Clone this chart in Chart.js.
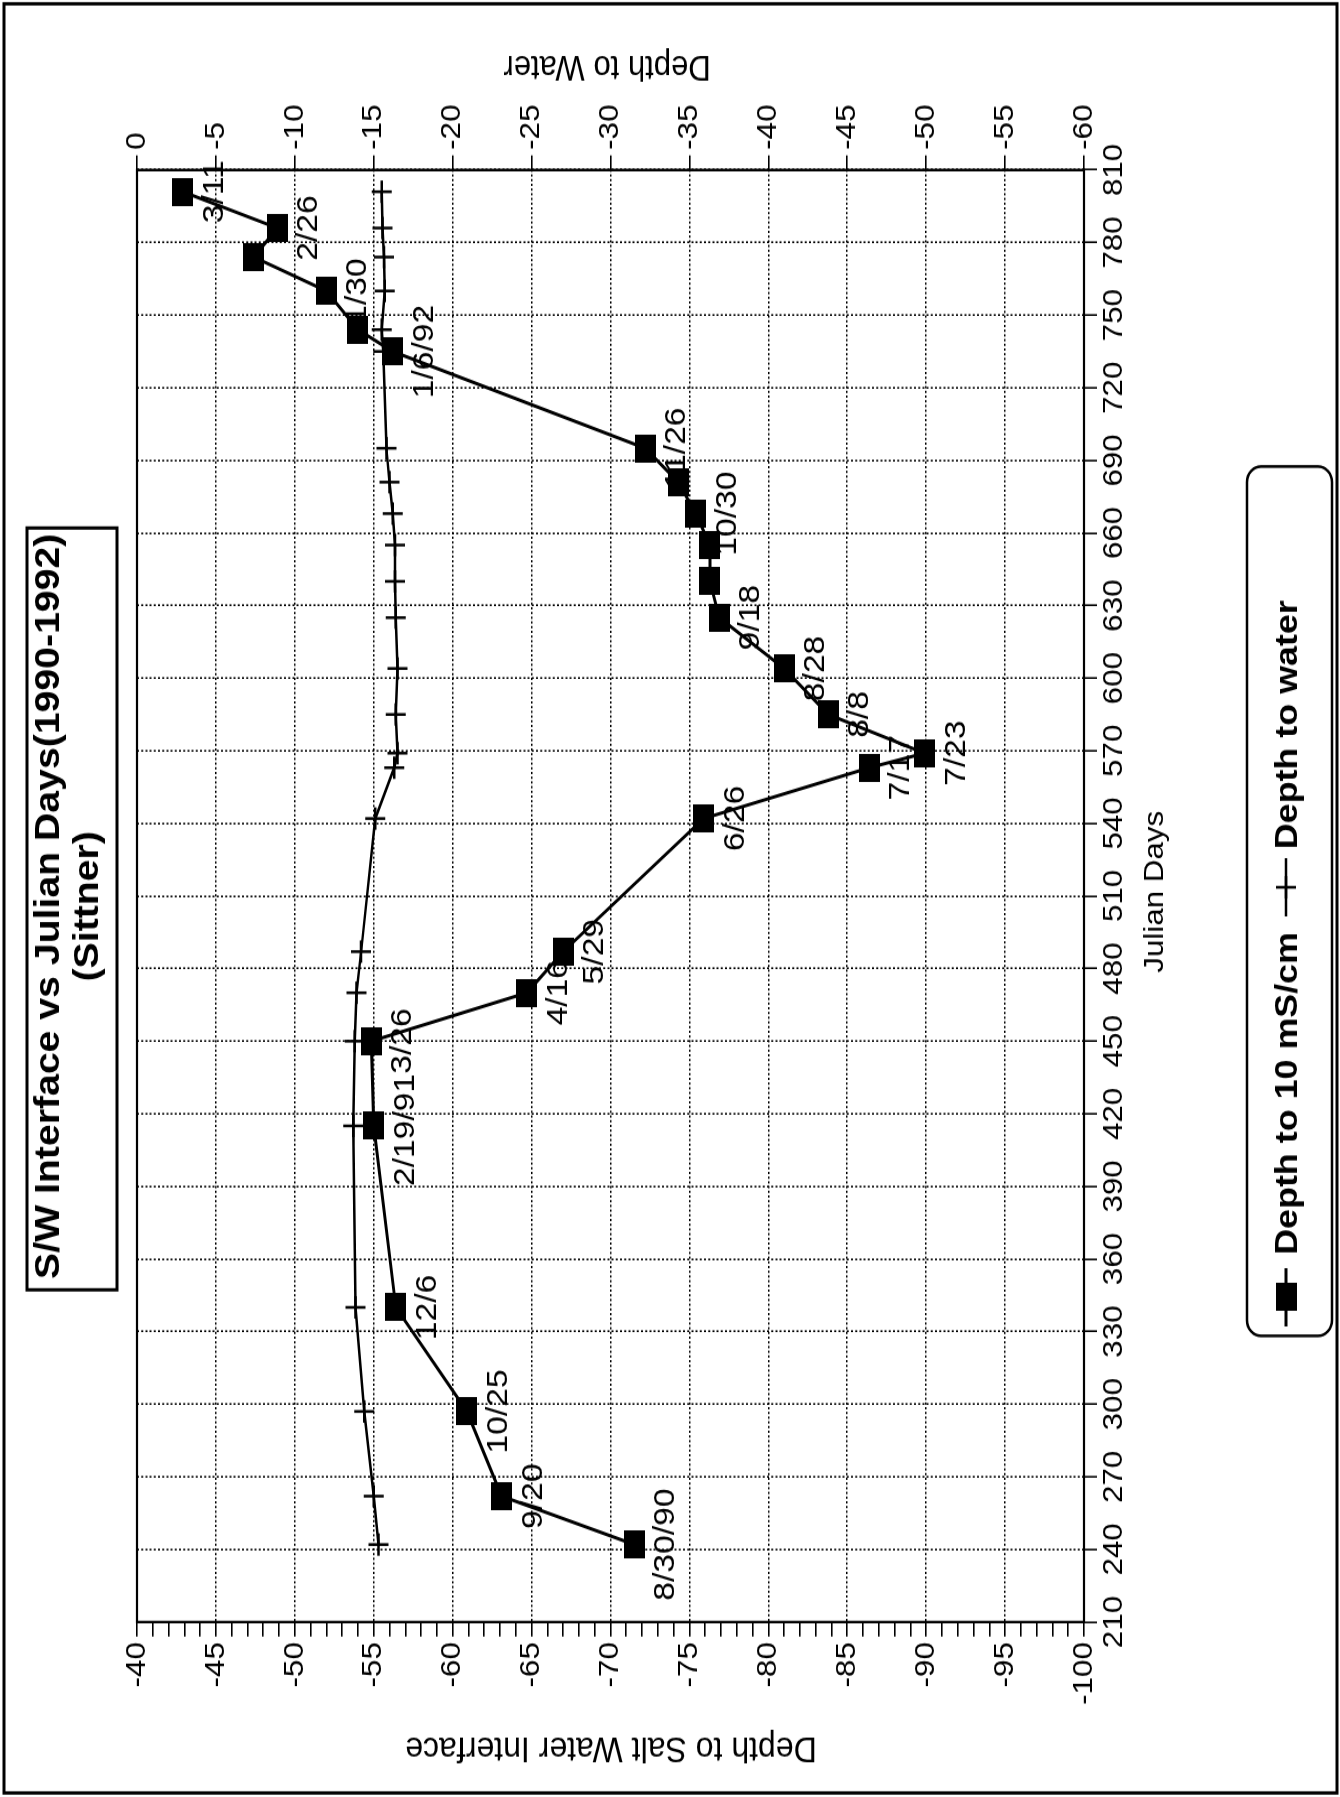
<!DOCTYPE html>
<html>
<head>
<meta charset="utf-8">
<script src="https://cdn.jsdelivr.net/npm/chart.js@4.4.1/dist/chart.umd.min.js"></script>
<style>
  html, body { margin: 0; padding: 0; background: #fff; }
  body { width: 1340px; height: 1797px; overflow: hidden; position: relative; }
  /* the chart is drawn upright and then turned a quarter turn, like the scanned page */
  #chart { position: absolute; left: 0; top: 0; transform-origin: 0 0;
           transform: translate(0px, 1797px) rotate(-90deg) scaleX(1.12032); }
</style>
</head>
<body>
<canvas id="chart" width="1604" height="1340"></canvas>
<script>
// data
const julianDays = [242, 262, 297, 340, 415, 450, 470, 487, 542, 563, 569, 585, 604, 625, 640, 655, 668, 681, 695, 735, 744, 760, 774, 786, 801];
const saltDepth  = [-71.5, -63.1, -60.9, -56.4, -55.0, -54.85, -64.7, -67.0, -75.9, -86.4, -89.9, -83.8, -81.0, -76.9, -76.3, -76.3, -75.4, -74.3, -72.2, -56.2, -54.0, -52.0, -47.4, -48.9, -42.9];
const waterDepth = [-15.3, -15.0, -14.4, -13.85, -13.7, -13.8, -13.9, -14.2, -15.1, -16.3, -16.5, -16.4, -16.5, -16.4, -16.35, -16.35, -16.2, -16.0, -15.8, -15.6, -15.5, -15.7, -15.65, -15.55, -15.5];
const dateLabels = ["8/30/90", "9/20", "10/25", "12/6", "2/19/91", "3/26", "4/16", "5/29", "6/26", "7/17", "7/23", "8/8", "8/28", "9/18", "", "", "10/30", "", "11/26", "1/6/92", "", "1/30", "", "2/26", "3/11"];

const seriesNames = ["Depth to 10 mS/cm", "Depth to water"];
const titleLines = ["S/W Interface vs Julian Days(1990-1992)", "(Sittner)"];
const dayRange = [210, 810, 30];
const saltRange = [-100, -40, 1];
const waterRange = [-60, 0, 5];

const FONT = "'Liberation Sans', Arial, Helvetica, sans-serif";
Chart.defaults.font.family = FONT;
Chart.defaults.color = "#000";

// filled block marker, a little longer along the day axis
const block = document.createElement("canvas");
block.width = 25; block.height = 21;
const bctx = block.getContext("2d");
bctx.fillStyle = "#000";
bctx.fillRect(0, 0, 25, 21);

const el = document.getElementById("chart");
const AREA_L = 156.2, AREA_R = 1452.3, AREA_T = 137, AREA_B = 1084;

const tickGrid = {
  lineWidth: 1.6,
  tickLength: 13,
  tickColor: "#000",
  tickWidth: 1.6
};

const decor = {
  id: "decor",
  beforeDraw(c) {
    const ctx = c.ctx;
    ctx.save();
    ctx.fillStyle = "#fff";
    ctx.fillRect(0, 0, c.width, c.height);
    ctx.restore();
  },
  beforeDatasetsDraw(c) {
    // date labels under each block; a label that would run into the next one is pushed back
    const ctx = c.ctx;
    const pts = c.getDatasetMeta(0).data;
    ctx.save();
    ctx.fillStyle = "#000";
    ctx.font = "30px " + FONT;
    ctx.textAlign = "center";
    ctx.textBaseline = "alphabetic";
    const boxes = [];
    pts.forEach((p, i) => {
      if (!dateLabels[i]) return;
      const w = ctx.measureText(dateLabels[i]).width;
      boxes.push({ text: dateLabels[i], x: p.x, y: p.y + 40, w });
    });
    for (let k = boxes.length - 2; k >= 0; k--) {
      const b = boxes[k], n = boxes[k + 1];
      if (Math.abs(b.y - n.y) < 30) {
        const over = (b.x + b.w / 2) - (n.x - n.w / 2);
        if (over > 0) b.x -= over;
      }
    }
    boxes.forEach((b) => ctx.fillText(b.text, b.x, b.y));
    ctx.restore();
  },
  afterDraw(c) {
    const ctx = c.ctx;
    const a = c.chartArea;
    ctx.save();
    ctx.strokeStyle = "#000";
    ctx.fillStyle = "#000";
    ctx.setLineDash([]);

    // plot frame
    ctx.lineWidth = 2.2;
    ctx.strokeRect(a.left, a.top, a.right - a.left, a.bottom - a.top);

    // page frame
    ctx.lineWidth = 3;
    ctx.strokeRect(3.6, 4, 1597, 1333);

    // title box
    ctx.lineWidth = 3;
    ctx.strokeRect(452.7, 27, 680, 90);
    ctx.font = "bold 35px " + FONT;
    ctx.textAlign = "center";
    ctx.textBaseline = "alphabetic";
    ctx.fillText(titleLines[0], 795, 59);
    ctx.fillText(titleLines[1], 795, 98);

    // axis titles
    ctx.font = "32px " + FONT;
    ctx.textBaseline = "middle";
    ctx.save();
    ctx.translate(44.4, 611);
    ctx.rotate(-Math.PI / 2);
    ctx.fillText("Depth to Salt Water Interface", 0, 0);
    ctx.restore();
    ctx.font = "31px " + FONT;
    ctx.save();
    ctx.translate(1545, 607);
    ctx.rotate(-Math.PI / 2);
    ctx.fillText("Depth to Water", 0, 0);
    ctx.restore();
    ctx.font = "28px " + FONT;
    ctx.textBaseline = "alphabetic";
    ctx.fillText("Julian Days", 808, 1163);

    // legend
    ctx.lineWidth = 2.5;
    ctx.beginPath();
    ctx.roundRect(411.6, 1247, 776, 85, 14);
    ctx.stroke();
    const ly = 1286;
    ctx.lineWidth = 3;
    ctx.beginPath(); ctx.moveTo(420, ly); ctx.lineTo(472, ly); ctx.stroke();
    ctx.drawImage(block, 446 - 12.5, ly - 10.5);
    ctx.lineWidth = 2.5;
    ctx.beginPath(); ctx.moveTo(786, ly); ctx.lineTo(838, ly); ctx.stroke();
    ctx.beginPath();
    ctx.moveTo(812 - 10, ly); ctx.lineTo(812 + 10, ly);
    ctx.moveTo(812, ly - 10); ctx.lineTo(812, ly + 10);
    ctx.stroke();
    ctx.font = "bold 32px " + FONT;
    ctx.textAlign = "left";
    ctx.fillText(seriesNames[0], 484, ly + 11);
    ctx.fillText(seriesNames[1], 846, ly + 11);
    ctx.restore();
  }
};

new Chart(el, {
  type: "line",
  data: {
    datasets: [
      {
        label: seriesNames[0],
        data: julianDays.map((d, i) => ({ x: d, y: saltDepth[i] })),
        yAxisID: "y",
        borderColor: "#000",
        backgroundColor: "#000",
        borderWidth: 3,
        pointStyle: block,
        pointRadius: 12,
        tension: 0
      },
      {
        label: seriesNames[1],
        data: julianDays.map((d, i) => ({ x: d, y: waterDepth[i] })),
        yAxisID: "y2",
        borderColor: "#000",
        backgroundColor: "#000",
        borderWidth: 2.5,
        pointStyle: "cross",
        pointRadius: 10,
        pointBorderWidth: 2.5,
        pointBorderColor: "#000",
        tension: 0
      }
    ]
  },
  options: {
    responsive: false,
    animation: false,
    events: [],
    layout: { padding: { top: AREA_T, left: 0, right: 0, bottom: 0 } },
    plugins: {
      legend: { display: false },
      title: { display: false },
      tooltip: { enabled: false }
    },
    scales: {
      x: {
        type: "linear",
        position: "bottom",
        min: dayRange[0],
        max: dayRange[1],
        ticks: { stepSize: dayRange[2], autoSkip: false, maxRotation: 0, padding: 0, font: { size: 28 } },
        grid: Object.assign({ color: "#000" }, tickGrid),
        border: { display: true, color: "#000", width: 2, dash: [2, 2.2] },
        afterFit: (s) => { s.height = 1340 - AREA_B; }
      },
      y: {
        type: "linear",
        position: "left",
        min: saltRange[0],
        max: saltRange[1],
        ticks: {
          stepSize: saltRange[2],
          autoSkip: false,
          padding: 5,
          font: { size: 28 },
          callback: (v) => (v % 5 === 0 ? String(v) : "")
        },
        grid: Object.assign({
          color: (ctx) => (ctx.tick && ctx.tick.value % 5 === 0 ? "#000" : "rgba(0,0,0,0)")
        }, tickGrid),
        border: { display: true, color: "#000", width: 2, dash: [2, 2.2] },
        afterFit: (s) => { s.width = AREA_L; }
      },
      y2: {
        type: "linear",
        position: "right",
        min: waterRange[0],
        max: waterRange[1],
        ticks: { stepSize: waterRange[2], autoSkip: false, padding: 5, font: { size: 28 } },
        grid: Object.assign({ drawOnChartArea: false, color: "#000" }, tickGrid),
        border: { display: true, color: "#000", width: 2 },
        afterFit: (s) => { s.width = 1604 - AREA_R; }
      }
    }
  },
  plugins: [decor]
});
</script>
</body>
</html>
